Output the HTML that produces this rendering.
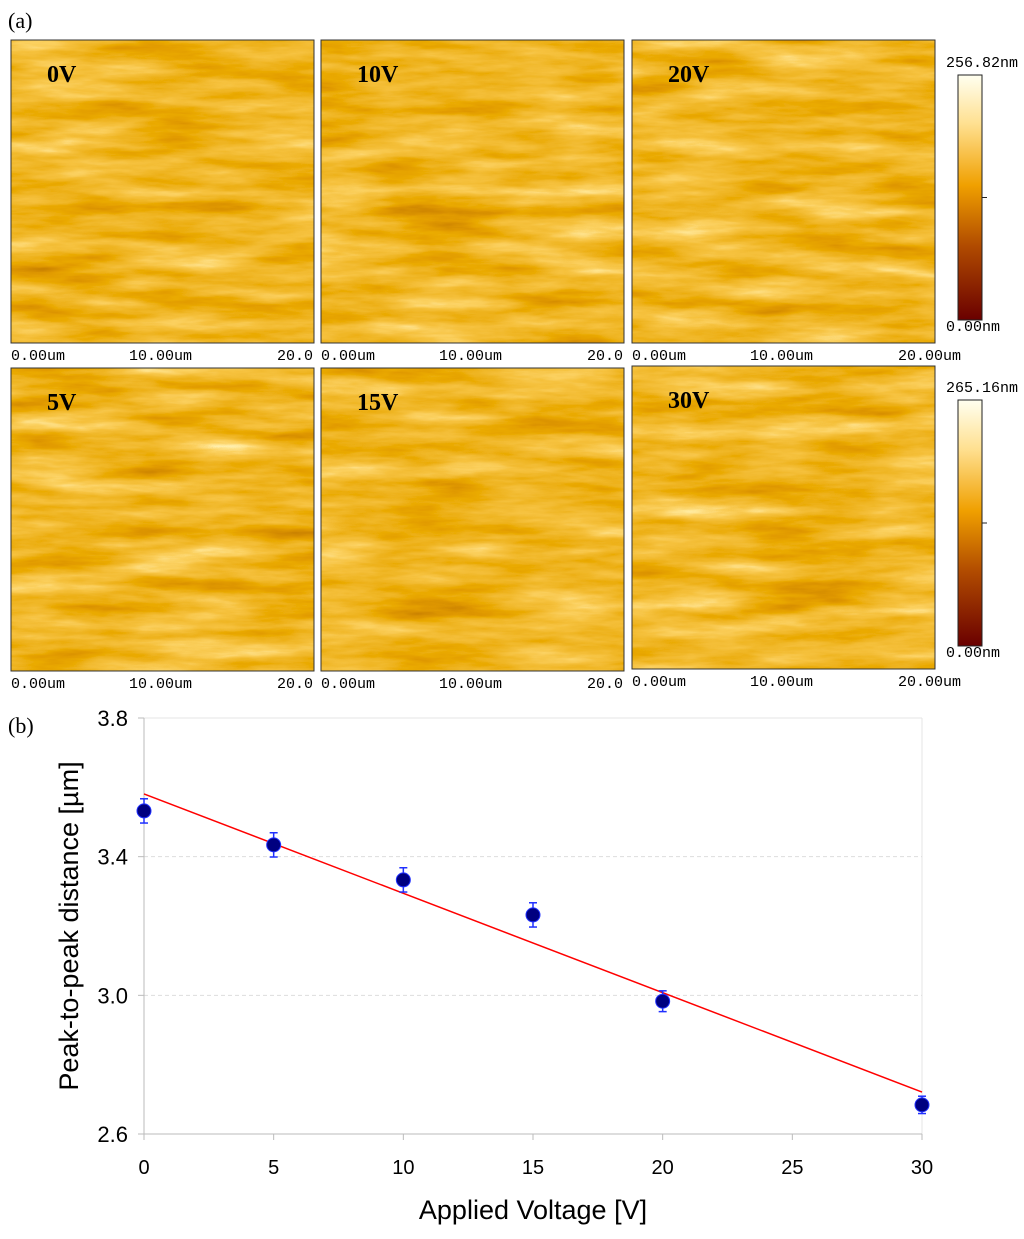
<!DOCTYPE html>
<html><head><meta charset="utf-8"><style>
body{margin:0;background:#fff;width:1024px;height:1234px;overflow:hidden;font-family:"Liberation Sans",sans-serif}
</style></head><body>
<svg width="1024" height="1234" xmlns="http://www.w3.org/2000/svg">
<defs>
<filter id="afm" x="0" y="0" width="100%" height="100%">
<feTurbulence type="fractalNoise" baseFrequency="0.008 0.05" numOctaves="5" seed="3"/>
<feColorMatrix type="matrix" values="1 0 0 0 0 1 0 0 0 0 1 0 0 0 0 0 0 0 0 1"/>
<feComponentTransfer>
<feFuncR type="table" tableValues="0.5 0.64 0.75 0.82 0.87 0.92 0.97 1 1"/>
<feFuncG type="table" tableValues="0.18 0.25 0.32 0.4 0.47 0.54 0.64 0.8 0.95"/>
<feFuncB type="table" tableValues="0 0 0 0 0.02 0.05 0.12 0.3 0.6"/>
<feFuncA type="linear" slope="0" intercept="1"/>
</feComponentTransfer>
</filter>
<linearGradient id="cbar" x1="0" y1="1" x2="0" y2="0">
<stop offset="0" stop-color="#6a0000"/><stop offset="0.3" stop-color="#b04a00"/>
<stop offset="0.55" stop-color="#f0a000"/><stop offset="0.8" stop-color="#ffe090"/><stop offset="1" stop-color="#fffff0"/>
</linearGradient>
</defs>
<text x="8" y="28" font-family="Liberation Serif" font-size="22">(a)</text>
<g id="afmg" font-family="Liberation Mono" font-size="15"></g>
<text x="8" y="733" font-family="Liberation Serif" font-size="22">(b)</text>
<g id="chart"></g>
</svg>
<script>
const NS="http://www.w3.org/2000/svg";
function mk(p,t,a,txt){const e=document.createElementNS(NS,t);for(const k in a)e.setAttribute(k,a[k]);if(txt!=null)e.textContent=txt;p.appendChild(e);return e;}
const g=document.getElementById('afmg');
const panels=[["0V",11,40,1],["10V",321,40,2],["20V",632,40,3],["5V",11,368,4],["15V",321,368,5],["30V",632,366,6]];
panels.forEach(p=>{
  const [lab,x,y,s]=p;
  const f=document.getElementById('afm').cloneNode(true);f.id='afm'+s;f.querySelector('feTurbulence').setAttribute('seed',s*7);g.appendChild(f);
  const r=mk(g,'rect',{x:x,y:y,width:303,height:303,filter:'url(#afm'+s+')',stroke:'#333','stroke-width':1});
  
  
  mk(g,'rect',{x:x,y:y,width:303,height:303,fill:'none',stroke:'#333'});
  const t=mk(g,'text',{x:x+36,y:y+42,'font-family':'Liberation Serif','font-size':24,'font-weight':'bold'},lab);
  
  
  const by=y+315;
  mk(g,'text',{x:x,y:by+5},"0.00um");mk(g,'text',{x:x+118,y:by+5},"10.00um");mk(g,'text',{x:x+266,y:by+5},(x>600?"20.00um":"20.0"));
});
[[75,320,"256.82nm"],[400,646,"265.16nm"]].forEach(c=>{
  const r=mk(g,'rect',{x:958,y:c[0],width:24,height:c[1]-c[0],fill:'url(#cbar)',stroke:'#222'});
  
  
  mk(g,'line',{x1:982,x2:987,y1:(c[0]+c[1])/2,y2:(c[0]+c[1])/2,stroke:'#222'});
  mk(g,'text',{x:946,y:c[0]-8},c[2]);mk(g,'text',{x:946,y:c[1]+11},"0.00nm");
});

// chart data
const volts=[0,5,10,15,20,30];
const dist=[3.532,3.434,3.333,3.232,2.983,2.684];
const err=[0.035,0.035,0.035,0.035,0.03,0.025];
const fitX=[0,30];
const fitY=[3.581,2.721];
const xTicks=[0,5,10,15,20,25,30];
const yTicks=[2.6,3.0,3.4,3.8];
const X=v=>144+v*(922-144)/30;
const Y=v=>1134-(v-2.6)*(1134-718)/1.2;
const c=document.getElementById('chart');
mk(c,'line',{x1:144,y1:718,x2:922,y2:718,stroke:'#e4e4e4'});
mk(c,'line',{x1:922,y1:718,x2:922,y2:1134,stroke:'#e4e4e4'});
yTicks.forEach(t=>{
  if(t>2.6&&t<3.8)mk(c,'line',{x1:144,x2:922,y1:Y(t),y2:Y(t),stroke:'#ddd','stroke-dasharray':'4,3'});
  mk(c,'line',{x1:138,x2:144,y1:Y(t),y2:Y(t),stroke:'#bbb'});
  const tl=mk(c,'text',{x:128,y:Y(t)+8,'text-anchor':'end','font-size':22},t.toFixed(1));
  
  
});
mk(c,'line',{x1:144,x2:144,y1:718,y2:1134,stroke:'#bbb'});
mk(c,'line',{x1:144,x2:922,y1:1134,y2:1134,stroke:'#bbb'});
xTicks.forEach(t=>{
  mk(c,'line',{x1:X(t),x2:X(t),y1:1134,y2:1140,stroke:'#bbb'});
  const tl=mk(c,'text',{x:X(t),y:1174,'text-anchor':'middle','font-size':20},String(t));
  
  
});
const fl=mk(c,'line',{x1:X(fitX[0]),y1:Y(fitY[0]),x2:X(fitX[1]),y2:Y(fitY[1]),stroke:'#f00','stroke-width':1.5});


volts.forEach((v,i)=>{
  const x=X(v),y1=Y(dist[i]+err[i]),y2=Y(dist[i]-err[i]);
  mk(c,'line',{x1:x,x2:x,y1:y1,y2:y2,stroke:'#2030ff','stroke-width':1.5});
  mk(c,'line',{x1:x-4,x2:x+4,y1:y1,y2:y1,stroke:'#2030ff','stroke-width':1.5});
  mk(c,'line',{x1:x-4,x2:x+4,y1:y2,y2:y2,stroke:'#2030ff','stroke-width':1.5});
  const p=mk(c,'circle',{cx:x,cy:Y(dist[i]),r:7,fill:'#000080',stroke:'#2030ff','stroke-width':1});
  
  
});
const xt=mk(c,'text',{x:533,y:1219,'text-anchor':'middle','font-size':27},'Applied Voltage [V]');


const yt=mk(c,'text',{x:78,y:926,'text-anchor':'middle','font-size':27,transform:'rotate(-90 78 926)'},'Peak-to-peak distance [µm]');


</script>
</body></html>
